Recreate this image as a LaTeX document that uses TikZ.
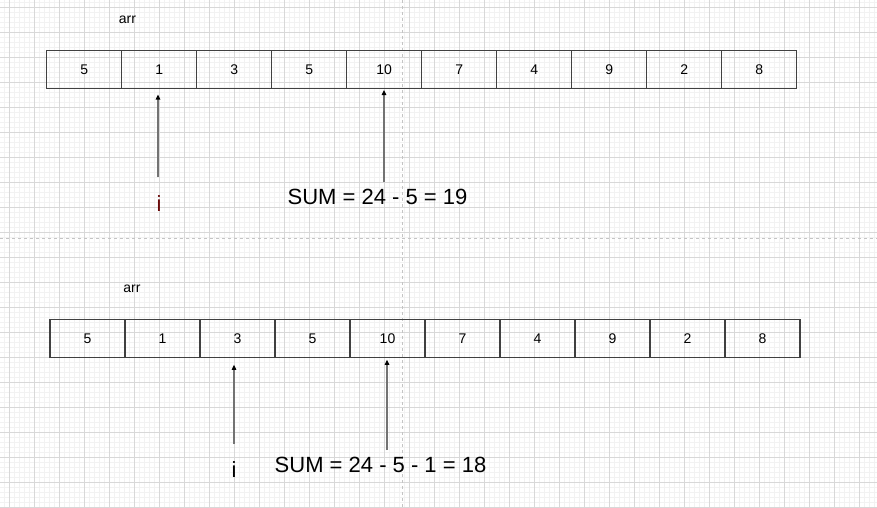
\documentclass[tikz,border=0pt]{standalone}
\usepackage{fontspec}
\setmainfont{Liberation Sans}
\usepackage{xcolor}
\usepackage{tikz}
\usetikzlibrary{arrows.meta}

\definecolor{gridmajor}{HTML}{D8D8D8}
\definecolor{gridminor}{HTML}{F2F2F2}
\definecolor{pagebreak}{HTML}{C4C4C4}
\definecolor{cellline}{HTML}{404040}
\definecolor{idxred}{HTML}{6A0A0A}

\begin{document}
\begin{tikzpicture}[x=1pt,y=-1pt,
  cell/.style={draw=cellline,line width=1.1pt,minimum width=75pt,minimum height=38pt,inner sep=0pt,font=\fontsize{14}{16}\selectfont},
  ptr/.style={-{Triangle[length=5pt,width=4.5pt,color=black]},draw=black!55,line width=1.1pt},
  lbl/.style={inner sep=0pt,font=\fontsize{14}{16}\selectfont},
  big/.style={inner sep=0pt,font=\fontsize{22}{26}\selectfont}]

\useasboundingbox (0,0) rectangle (877,508);
\fill[white] (0,0) rectangle (877,508);

% grid
\foreach \x in {4.3,9.3,...,877} \draw[gridminor,line width=0.6pt] (\x,0) -- (\x,508);
\foreach \y in {2,7,...,508} \draw[gridminor,line width=0.6pt] (0,\y) -- (877,\y);
\foreach \x in {9.3,34.3,...,877} \draw[gridmajor,line width=0.9pt] (\x,0) -- (\x,508);
\foreach \y in {7,32,...,508} \draw[gridmajor,line width=0.9pt] (0,\y) -- (877,\y);

% page breaks
\draw[pagebreak,dash pattern=on 3pt off 3pt,line width=1pt] (402,0) -- (402,508);
\draw[pagebreak,dash pattern=on 3pt off 3pt,line width=1pt] (0,238) -- (877,238);

% first step
\node[lbl] (arrA) at (127.5,20) {arr};
\foreach \v [count=\k] in {5,1,3,5,10,7,4,9,2,8}
  \node[cell] (a\k) at ({84.2+75*(\k-1)},69.5) {\v};

\coordinate (ta) at (158,177);
\coordinate (tb) at (384,182);
\draw[ptr,shorten >=5.5pt] (ta) -- (ta |- a2.south);
\draw[ptr,shorten >=1pt] (tb) -- (tb |- a5.south);

\node[big,text=idxred] (ia) at (159,203.5) {i};
\node[big] (sumA) at (377.5,197) {SUM = 24 - 5 = 19};

% second step
\node[lbl] (arrB) at (132,289) {arr};
\foreach \v [count=\k] in {5,1,3,5,10,7,4,9,2,8}
  \node[cell] (b\k) at ({87.5+75*(\k-1)},338.3) {\v};

\coordinate (tc) at (234,444);
\coordinate (td) at (387,450);
\draw[ptr,shorten >=7pt] (tc) -- (tc |- b3.south);
\draw[ptr,shorten >=2pt] (td) -- (td |- b5.south);

\node[big] (ib) at (234,470) {i};
\node[big] (sumB) at (380.5,465) {SUM = 24 - 5 - 1 = 18};

\end{tikzpicture}
\end{document}
